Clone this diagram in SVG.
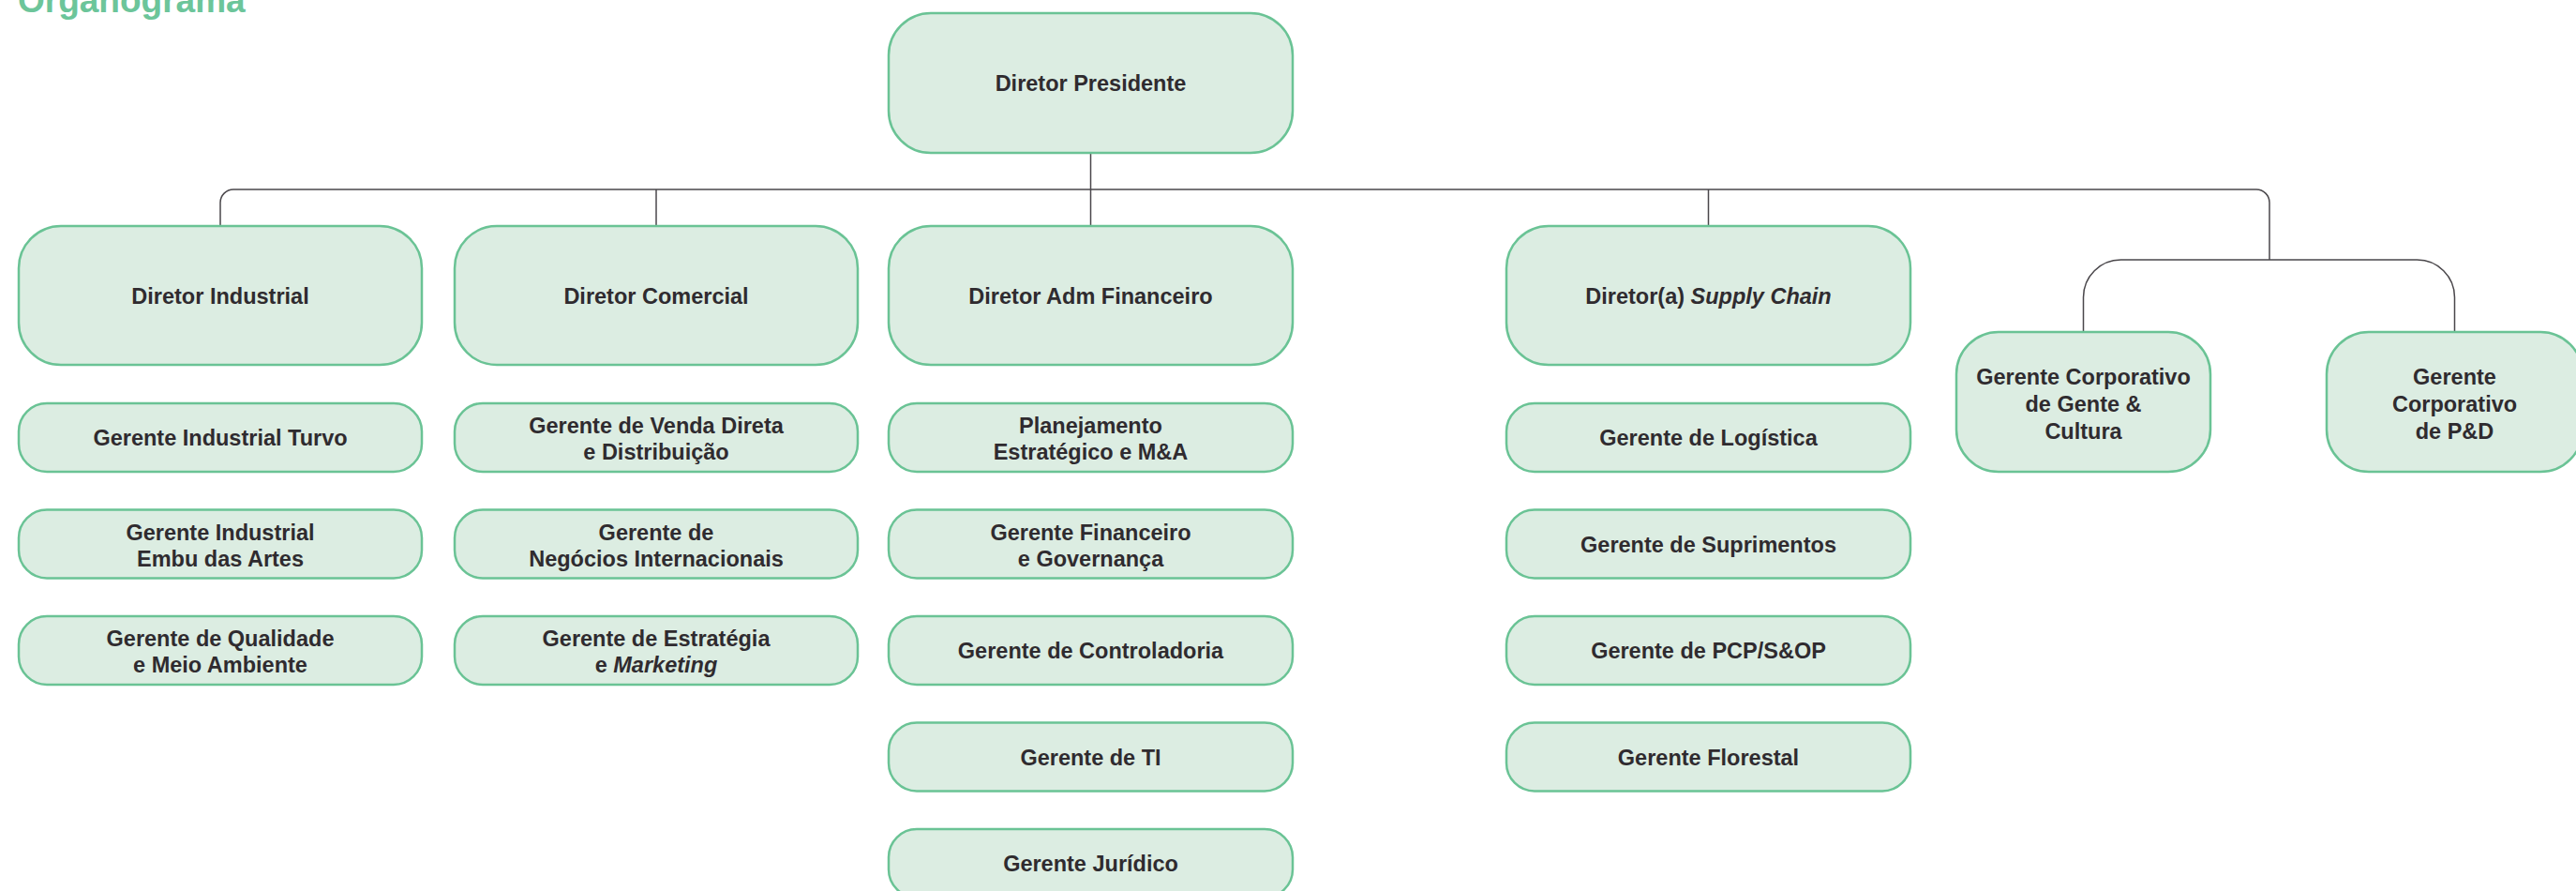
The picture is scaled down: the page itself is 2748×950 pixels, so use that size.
<svg xmlns="http://www.w3.org/2000/svg" width="2748" height="950" viewBox="0 0 2748 950">
<style>
.big{fill:#dcede2;stroke:#6ac395;stroke-width:2.5}
.sm{fill:#dcede2;stroke:#6ac395;stroke-width:2.5}
.t{font-family:"Liberation Sans",Arial,Helvetica,sans-serif;font-weight:bold;font-size:23.5px;fill:#2f2b2f;text-anchor:middle}
.title{font-family:"Liberation Sans",Arial,Helvetica,sans-serif;font-weight:bold;font-size:37px;fill:#6cc59a}
.c{fill:none;stroke:#4a474b;stroke-width:1.5}
.i{font-style:italic}
</style>
<rect width="2748" height="950" fill="#ffffff"/>
<text class="title" x="19" y="13">Organograma</text>
<g id="connectors">
<path class="c" d="M235,241 V216 A14,14 0 0 1 249,202 H2407 A14,14 0 0 1 2421,216 V277"/>
<path class="c" d="M1163.5,163 V241"/>
<path class="c" d="M700,202 V241"/>
<path class="c" d="M1822.5,202 V241"/>
<path class="c" d="M2222.5,354 V317 A40,40 0 0 1 2262.5,277 H2578.5 A40,40 0 0 1 2618.5,317 V354"/>
</g>
<g id="n-presidente"><rect class="big" x="948" y="14" width="431" height="149" rx="45"/><text class="t" x="1163.5" y="97">Diretor Presidente</text></g>
<g id="n-dir-industrial"><rect class="big" x="20" y="241" width="430" height="148" rx="45"/><text class="t" x="235" y="323.5">Diretor Industrial</text></g>
<g id="n-dir-comercial"><rect class="big" x="485" y="241" width="430" height="148" rx="45"/><text class="t" x="700" y="323.5">Diretor Comercial</text></g>
<g id="n-dir-adm"><rect class="big" x="948" y="241" width="431" height="148" rx="45"/><text class="t" x="1163.5" y="323.5">Diretor Adm Financeiro</text></g>
<g id="n-dir-supply"><rect class="big" x="1607" y="241" width="431" height="148" rx="45"/><text class="t" x="1822.5" y="323.5">Diretor(a) <tspan class="i">Supply Chain</tspan></text></g>
<g id="n-gente"><rect class="big" x="2087" y="354" width="271" height="149" rx="45"/><text class="t" x="2222.5" y="409.5">Gerente Corporativo<tspan x="2222.5" y="438.5">de Gente &amp;</tspan><tspan x="2222.5" y="467.5">Cultura</tspan></text></g>
<g id="n-pd"><rect class="big" x="2482" y="354" width="273" height="149" rx="45"/><text class="t" x="2618.5" y="409.5">Gerente<tspan x="2618.5" y="438.5">Corporativo</tspan><tspan x="2618.5" y="467.5">de P&amp;D</tspan></text></g>

<g id="n-ind-turvo"><rect class="sm" x="20" y="430" width="430" height="73" rx="30"/><text class="t" x="235" y="475">Gerente Industrial Turvo</text></g>
<g id="n-ind-embu"><rect class="sm" x="20" y="543.5" width="430" height="73" rx="30"/><text class="t" x="235" y="575.5">Gerente Industrial<tspan x="235" y="603.5">Embu das Artes</tspan></text></g>
<g id="n-ind-qualidade"><rect class="sm" x="20" y="657" width="430" height="73" rx="30"/><text class="t" x="235" y="689">Gerente de Qualidade<tspan x="235" y="717">e Meio Ambiente</tspan></text></g>

<g id="n-com-venda"><rect class="sm" x="485" y="430" width="430" height="73" rx="30"/><text class="t" x="700" y="462">Gerente de Venda Direta<tspan x="700" y="490">e Distribuição</tspan></text></g>
<g id="n-com-negocios"><rect class="sm" x="485" y="543.5" width="430" height="73" rx="30"/><text class="t" x="700" y="575.5">Gerente de<tspan x="700" y="603.5">Negócios Internacionais</tspan></text></g>
<g id="n-com-estrategia"><rect class="sm" x="485" y="657" width="430" height="73" rx="30"/><text class="t" x="700" y="689">Gerente de Estratégia<tspan x="700" y="717">e <tspan class="i">Marketing</tspan></tspan></text></g>

<g id="n-adm-planejamento"><rect class="sm" x="948" y="430" width="431" height="73" rx="30"/><text class="t" x="1163.5" y="462">Planejamento<tspan x="1163.5" y="490">Estratégico e M&amp;A</tspan></text></g>
<g id="n-adm-financeiro"><rect class="sm" x="948" y="543.5" width="431" height="73" rx="30"/><text class="t" x="1163.5" y="575.5">Gerente Financeiro<tspan x="1163.5" y="603.5">e Governança</tspan></text></g>
<g id="n-adm-controladoria"><rect class="sm" x="948" y="657" width="431" height="73" rx="30"/><text class="t" x="1163.5" y="702">Gerente de Controladoria</text></g>
<g id="n-adm-ti"><rect class="sm" x="948" y="770.5" width="431" height="73" rx="30"/><text class="t" x="1163.5" y="815.5">Gerente de TI</text></g>
<g id="n-adm-juridico"><rect class="sm" x="948" y="884" width="431" height="73" rx="30"/><text class="t" x="1163.5" y="929">Gerente Jurídico</text></g>

<g id="n-sup-logistica"><rect class="sm" x="1607" y="430" width="431" height="73" rx="30"/><text class="t" x="1822.5" y="475">Gerente de Logística</text></g>
<g id="n-sup-suprimentos"><rect class="sm" x="1607" y="543.5" width="431" height="73" rx="30"/><text class="t" x="1822.5" y="588.5">Gerente de Suprimentos</text></g>
<g id="n-sup-pcp"><rect class="sm" x="1607" y="657" width="431" height="73" rx="30"/><text class="t" x="1822.5" y="702">Gerente de PCP/S&amp;OP</text></g>
<g id="n-sup-florestal"><rect class="sm" x="1607" y="770.5" width="431" height="73" rx="30"/><text class="t" x="1822.5" y="815.5">Gerente Florestal</text></g>
</svg>
